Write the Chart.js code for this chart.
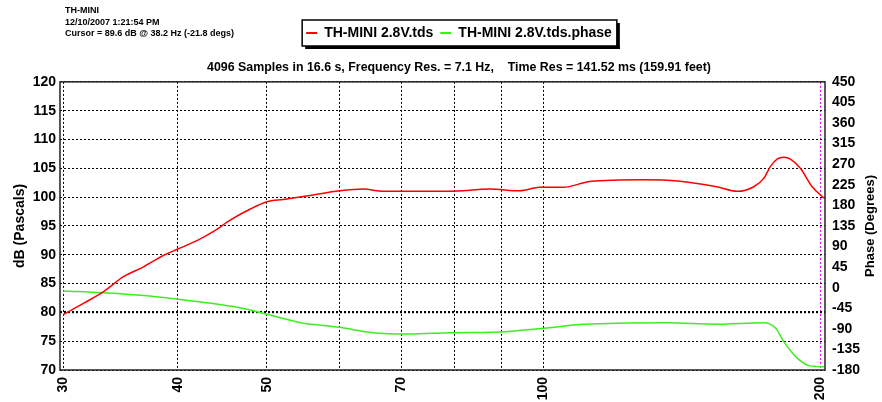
<!DOCTYPE html>
<html>
<head>
<meta charset="utf-8">
<script src="https://cdn.jsdelivr.net/npm/chart.js@4.4.1/dist/chart.umd.min.js"></script>
<style>
  body { margin: 0; background: #fff; }
  #wrap { position: relative; width: 882px; height: 402px; }
  #info { position: absolute; left: 65px; top: 5px; font: bold 9px "Liberation Sans", Arial, sans-serif; line-height: 11.5px; color: #000; }
</style>
</head>
<body>
<div id="wrap">
  <canvas id="chart" width="882" height="402"></canvas>
  <div id="info">TH-MINI<br>12/10/2007 1:21:54 PM<br>Cursor = 89.6 dB @ 38.2 Hz (-21.8 degs)</div>
</div>
<script>
const FONT = '"Liberation Sans", Arial, sans-serif';

// magnitude (dB)
const dbFreq = [30, 31.6, 33.2, 34.9, 36.7, 38.7, 40, 41.9, 43.7, 45.6, 47.9, 50, 52.1, 55.7, 60, 63.7, 66.8, 72, 79, 87.4, 94.3, 99, 105, 112.3, 128.4, 140, 154.3, 162.4, 169.3, 173.7, 176.5, 179.5, 182.5, 185.6, 190.3, 196, 202];
const dbValues = [79.6, 81.6, 83.6, 86.2, 87.9, 90.0, 91.0, 92.4, 94.0, 96.0, 97.9, 99.2, 99.6, 100.3, 101.1, 101.4, 101.0, 101.0, 101.0, 101.4, 101.1, 101.7, 101.7, 102.7, 103.0, 102.8, 101.8, 101.0, 101.8, 103.3, 105.3, 106.6, 106.9, 106.6, 105.0, 101.8, 99.8];

// phase (degrees)
const phaseFreq = [30, 33.2, 37.3, 40, 44, 47, 50, 54.4, 60, 65.2, 71.3, 79.1, 90.9, 100, 110.6, 136.1, 154.3, 173.6, 178.9, 182.5, 188.8, 194.9, 202];
const phaseValues = [-7, -10.9, -18.1, -25.3, -35.6, -45, -58.2, -76.5, -86.6, -98.4, -101.2, -98.4, -96.2, -88.8, -80, -76.5, -80, -76.5, -88.8, -118, -154, -171, -173];

const xTicks = [30, 40, 50, 60, 70, 80, 90, 100, 200];
const xLabelled = [30, 40, 50, 70, 100, 200];

const toPoints = (xs, ys) => xs.map((x, i) => ({ x: x, y: ys[i] }));

const framePlugin = {
    id: 'frame',
    afterLayout(chart) {
        const dx = 18;
        chart.legend.left += dx;
        chart.legend.right += dx;
        chart.titleBlock.left += dx;
        chart.titleBlock.right += dx;
    },
    afterDraw(chart) {
        const ctx = chart.ctx;
        const a = chart.chartArea;
        ctx.save();
        // plot border
        ctx.strokeStyle = '#222';
        ctx.lineWidth = 1.5;
        ctx.strokeRect(a.left, a.top, a.right - a.left, a.bottom - a.top);

        // legend box with shadow
        const boxes = chart.legend.legendHitBoxes;
        if (boxes && boxes.length) {
            const l = Math.min(...boxes.map(b => b.left)) - 4;
            const r = Math.max(...boxes.map(b => b.left + b.width)) + 5;
            const t = boxes[0].top - 6;
            const b = boxes[0].top + boxes[0].height + 6;
            ctx.strokeStyle = '#000';
            ctx.lineWidth = 1.5;
            ctx.strokeRect(l, t, r - l, b - t);
            ctx.fillStyle = '#000';
            ctx.fillRect(r, t + 3, 3, b - t);
            ctx.fillRect(l + 3, b, r - l, 3);
        }

        // right axis title, reading bottom to top
        ctx.fillStyle = '#000';
        ctx.font = 'bold 13px ' + FONT;
        ctx.textAlign = 'center';
        ctx.textBaseline = 'middle';
        ctx.translate(870, (a.top + a.bottom) / 2);
        ctx.rotate(-Math.PI / 2);
        ctx.fillText('Phase (Degrees)', 0, 0);
        ctx.restore();
    }
};

const tickFont = { family: FONT, size: 14, weight: 'bold' };

new Chart(document.getElementById('chart'), {
    type: 'line',
    data: {
        datasets: [{
            label: 'TH-MINI 2.8V.tds',
            data: toPoints(dbFreq, dbValues),
            borderColor: '#ff0000',
            backgroundColor: '#ff0000',
            borderWidth: 1.5,
            pointRadius: 0,
            cubicInterpolationMode: 'monotone',
            yAxisID: 'y'
        }, {
            label: 'TH-MINI 2.8V.tds.phase',
            data: toPoints(phaseFreq, phaseValues),
            borderColor: '#3cee1e',
            backgroundColor: '#3cee1e',
            borderWidth: 1.5,
            pointRadius: 0,
            cubicInterpolationMode: 'monotone',
            yAxisID: 'y1'
        }]
    },
    options: {
        responsive: false,
        animation: false,
        devicePixelRatio: 1,
        layout: { padding: { top: 19, left: 0, right: 0, bottom: 0 } },
        plugins: {
            legend: {
                position: 'top',
                labels: {
                    boxWidth: 11,
                    boxHeight: 2,
                    padding: 7,
                    color: '#000',
                    font: { family: FONT, size: 14, weight: 'bold' },
                    generateLabels: chart => Chart.defaults.plugins.legend.labels.generateLabels(chart)
                        .map(l => Object.assign(l, { lineWidth: 0 }))
                }
            },
            title: {
                display: true,
                weight: 500,
                text: '4096 Samples in 16.6 s, Frequency Res. = 7.1 Hz,    Time Res = 141.52 ms (159.91 feet)',
                color: '#000',
                font: { family: FONT, size: 12.4, weight: 'bold' },
                padding: { top: 10, bottom: 7 }
            },
            tooltip: { enabled: false }
        },
        scales: {
            x: {
                type: 'logarithmic',
                min: 29.77,
                max: 202.4,
                afterBuildTicks: s => { s.ticks = xTicks.map(v => ({ value: v })); },
                afterFit: s => { s.height = 32; },
                ticks: {
                    autoSkip: false,
                    minRotation: 90,
                    maxRotation: 90,
                    padding: 7,
                    color: '#000',
                    font: tickFont,
                    callback: v => xLabelled.includes(v) ? String(v) : ''
                },
                grid: {
                    color: c => c.tick && c.tick.value === 200 ? '#ff00ff' : '#000',
                    drawTicks: false
                },
                border: { display: false, dash: [2, 2] }
            },
            y: {
                position: 'left',
                min: 70,
                max: 120,
                afterFit: s => { s.width = 60; },
                ticks: { stepSize: 5, padding: 4, color: '#000', font: tickFont },
                grid: {
                    color: '#000',
                    lineWidth: c => c.tick && c.tick.value === 80 ? 2.2 : 1,
                    drawTicks: false
                },
                border: { display: false, dash: [2, 2] },
                title: {
                    display: true,
                    text: 'dB (Pascals)',
                    color: '#000',
                    font: tickFont,
                    padding: { top: 12, bottom: 0 }
                }
            },
            y1: {
                position: 'right',
                min: -180,
                max: 450,
                afterFit: s => { s.width = 57; },
                ticks: { stepSize: 45, padding: 7, color: '#000', font: tickFont },
                grid: { drawOnChartArea: false, drawTicks: false },
                border: { display: false }
            }
        }
    },
    plugins: [framePlugin]
});
</script>
</body>
</html>
